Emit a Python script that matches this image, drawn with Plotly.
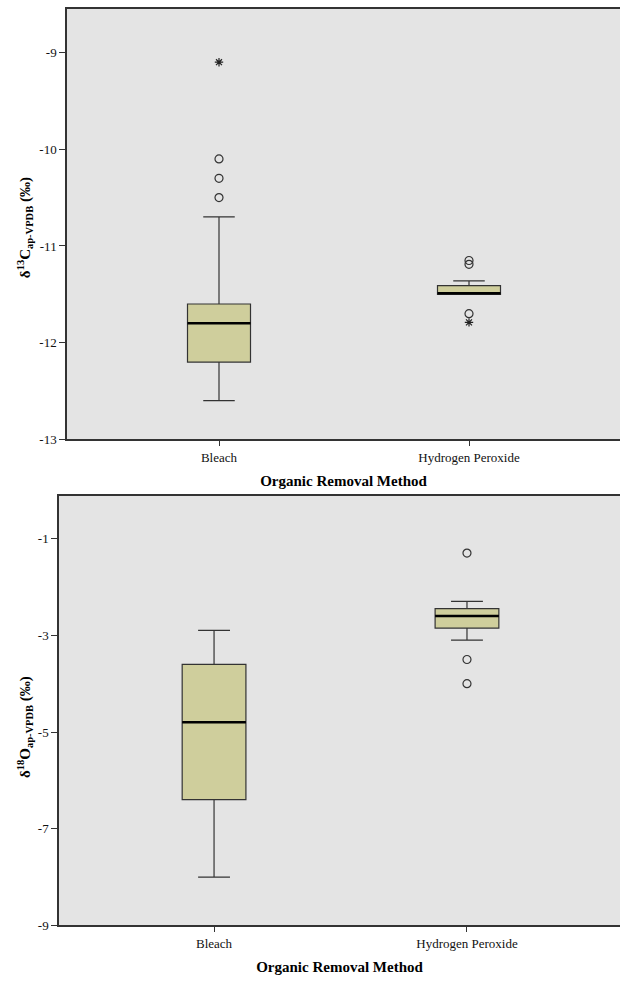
import plotly.graph_objects as go

categories = ["Bleach", "Hydrogen Peroxide"]
positions = [0, 1]

# δ13C panel (top)
c_q1 = [-12.2, -11.5]
c_median = [-11.8, -11.49]
c_q3 = [-11.6, -11.41]
c_lower = [-12.6, -11.5]
c_upper = [-10.7, -11.36]
c_circle_x = [0, 0, 0, 1, 1, 1]
c_circle_y = [-10.1, -10.3, -10.5, -11.15, -11.19, -11.7]
c_star_x = [0, 1]
c_star_y = [-9.1, -11.79]

# δ18O panel (bottom)
o_q1 = [-6.4, -2.85]
o_median = [-4.8, -2.6]
o_q3 = [-3.6, -2.45]
o_lower = [-8.0, -3.1]
o_upper = [-2.9, -2.3]
o_circle_x = [1, 1, 1]
o_circle_y = [-1.3, -3.5, -4.0]

c_ticks = [-13, -12, -11, -10, -9]
c_ticktext = ["-13", "-12", "-11", "-10", "-9"]
o_ticks = [-9, -7, -5, -3, -1]
o_ticktext = ["-9", "-7", "-5", "-3", "-1"]

x_title = "<b>Organic Removal Method</b>"
c_title = "<b>δ<sup>13</sup>C<sub>ap-VPDB</sub> (‰)</b>"
o_title = "<b>δ<sup>18</sup>O<sub>ap-VPDB</sub> (‰)</b>"

FONT = "Liberation Serif"
BOX_FILL = "#CFCE9C"
LINE = "#333333"
BG = "#E4E4E4"
BOX_W = 0.252

W, H = 621, 986

fig = go.Figure()


def add_panel(xa, ya, q1, med, q3, lo, hi, cx, cy, sx, sy):
    xref = "x" if xa == "" else "x" + xa
    yref = "y" if ya == "" else "y" + ya
    fig.add_trace(go.Box(
        x=positions, q1=q1, median=med, q3=q3, lowerfence=lo, upperfence=hi,
        width=BOX_W, whiskerwidth=0.5, fillcolor=BOX_FILL,
        line=dict(color=LINE, width=1.2), boxpoints=False,
        xaxis=xref, yaxis=yref, showlegend=False, hoverinfo="skip"))
    mx, my = [], []
    for p, m in zip(positions, med):
        mx += [p - BOX_W / 2, p + BOX_W / 2, None]
        my += [m, m, None]
    fig.add_trace(go.Scatter(x=mx, y=my, mode="lines",
                             line=dict(color="#000000", width=2.5),
                             xaxis=xref, yaxis=yref, showlegend=False, hoverinfo="skip"))
    if cx:
        fig.add_trace(go.Scatter(x=cx, y=cy, mode="markers",
                                 marker=dict(symbol="circle-open", size=8, color=LINE,
                                             line=dict(width=1.2, color=LINE)),
                                 xaxis=xref, yaxis=yref, showlegend=False, hoverinfo="skip"))
    if sx:
        fig.add_trace(go.Scatter(x=sx, y=sy, mode="markers",
                                 marker=dict(symbol="asterisk-open", size=7, color="#222222",
                                             line=dict(width=1.2, color="#222222")),
                                 xaxis=xref, yaxis=yref, showlegend=False, hoverinfo="skip"))


add_panel("", "", c_q1, c_median, c_q3, c_lower, c_upper, c_circle_x, c_circle_y, c_star_x, c_star_y)
add_panel("2", "2", o_q1, o_median, o_q3, o_lower, o_upper, o_circle_x, o_circle_y, [], [])

xcommon = dict(tickmode="array", tickvals=positions, ticktext=categories,
               ticks="outside", ticklen=5, tickcolor=LINE, tickwidth=1.2,
               showline=True, linecolor=LINE, linewidth=1.5, mirror=True,
               showgrid=False, zeroline=False,
               tickfont=dict(family=FONT, size=13, color="#111"),
               title=dict(text=x_title,
                          font=dict(family=FONT, size=15, color="#000"), standoff=12))
ycommon = dict(ticks="outside", ticklen=6, tickcolor=LINE, tickwidth=1.2,
               showline=True, linecolor=LINE, linewidth=1.5,
               showgrid=False, zeroline=False, tickmode="array",
               tickfont=dict(family=FONT, size=13, color="#111"))

fig.update_layout(
    width=W, height=H,
    margin=dict(l=0, r=0, t=0, b=0),
    paper_bgcolor="white", plot_bgcolor=BG,
    font=dict(family=FONT),
    xaxis=dict(domain=[67 / W, 620 / W], range=[-0.608, 1.604], anchor="y", **xcommon),
    yaxis=dict(domain=[1 - 443 / H, 1 - 9 / H], range=[-13, -8.549], anchor="x",
               tickvals=c_ticks, ticktext=c_ticktext, **ycommon),
    xaxis2=dict(domain=[59 / W, 620 / W], range=[-0.613, 1.605], anchor="y2", **xcommon),
    yaxis2=dict(domain=[1 - 933 / H, 1 - 500 / H], range=[-9, -0.118], anchor="x2",
                tickvals=o_ticks, ticktext=o_ticktext, **ycommon),
    annotations=[
        dict(text=c_title, textangle=-90, xref="paper", yref="paper",
             x=25 / W, y=1 - 230 / H, xanchor="center", yanchor="middle", showarrow=False,
             font=dict(family=FONT, size=15, color="#000")),
        dict(text=o_title, textangle=-90, xref="paper", yref="paper",
             x=25 / W, y=1 - 733 / H, xanchor="center", yanchor="middle", showarrow=False,
             font=dict(family=FONT, size=15, color="#000")),
    ],
)

fig.write_html("out.html", config={"displayModeBar": False},
               post_script="document.body.style.margin='0';document.body.style.overflow='hidden';")
